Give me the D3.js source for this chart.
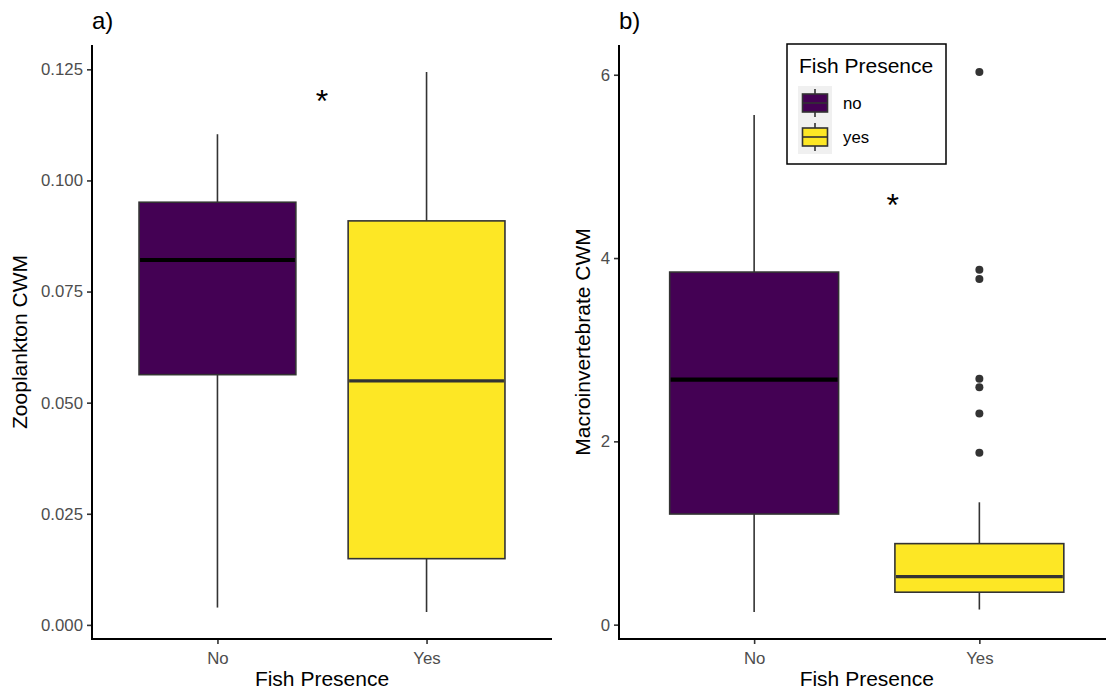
<!DOCTYPE html>
<html>
<head>
<meta charset="utf-8">
<script src="https://cdn.jsdelivr.net/npm/d3@7"></script>
<style>
  html, body { margin: 0; padding: 0; background: #fff; }
  svg { display: block; font-family: "Liberation Sans", Arial, Helvetica, sans-serif; }
</style>
</head>
<body>
<svg id="chart" width="1106" height="694"></svg>
<script>
// Categories on the x axis and the legend
const categories = ["No", "Yes"];
const legendLabels = ["no", "yes"];
const fillColors = ["#440154", "#FDE725"];

// Zooplankton CWM box statistics: [whiskerLow, q1, median, q3, whiskerHigh]
const zooStats = [
  [0.0039, 0.0563, 0.0821, 0.0951, 0.1104],
  [0.0029, 0.0149, 0.0549, 0.0909, 0.1244]
];
const zooOutliers = [[], []];
const zooTicks = [0, 0.025, 0.05, 0.075, 0.1, 0.125];

// Macroinvertebrate CWM box statistics
const macroStats = [
  [0.138, 1.207, 2.673, 3.847, 5.56],
  [0.165, 0.354, 0.524, 0.884, 1.335]
];
const macroOutliers = [[], [6.03, 3.873, 3.771, 2.684, 2.589, 2.305, 1.876]];
const macroTicks = [0, 2, 4, 6];

// Significance markers: [x position (category index, 1-based), y value]
const zooStar = [1.5, 0.1179];
const macroStar = [1.615, 4.58];

const svg = d3.select("#chart");

function expandDomain(values) {
  const lo = d3.min(values), hi = d3.max(values);
  const pad = (hi - lo) * 0.05;
  return [lo - pad, hi + pad];
}

function drawPanel(opts) {
  const { left, right, top, bottom, stats, outliers, ticks, tickFmt, yTitle, tag, star, titleX } = opts;
  const g = svg.append("g");

  const allVals = stats.flat().concat(outliers.flat());
  const y = d3.scaleLinear().domain(expandDomain(allVals)).range([bottom, top]);
  const x = d3.scaleLinear().domain([0.4, 2.6]).range([left, right]);
  const unit = x(2) - x(1);
  const boxW = unit * 0.75;

  // boxes
  stats.forEach((s, i) => {
    const cx = x(i + 1);
    const [wl, q1, med, q3, wh] = s;
    const bg = g.append("g");
    bg.append("line").attr("x1", cx).attr("x2", cx).attr("y1", y(q3)).attr("y2", y(wh))
      .attr("stroke", "#333333").attr("stroke-width", 1.6);
    bg.append("line").attr("x1", cx).attr("x2", cx).attr("y1", y(wl)).attr("y2", y(q1))
      .attr("stroke", "#333333").attr("stroke-width", 1.6);
    bg.append("rect").attr("x", cx - boxW / 2).attr("width", boxW)
      .attr("y", y(q3)).attr("height", y(q1) - y(q3))
      .attr("fill", fillColors[i]).attr("stroke", "#333333").attr("stroke-width", 1.6);
    bg.append("line").attr("x1", cx - boxW / 2 + 1).attr("x2", cx + boxW / 2 - 1)
      .attr("y1", y(med)).attr("y2", y(med))
      .attr("stroke", i === 0 ? "#000000" : "#333333")
      .attr("stroke-width", i === 0 ? 4.2 : 3.3);
    g.selectAll(null).data(outliers[i]).enter().append("circle")
      .attr("cx", cx).attr("cy", d => y(d)).attr("r", 4).attr("fill", "#333333");
  });

  // axes
  const yAxis = d3.axisLeft(y).tickValues(ticks).tickFormat(tickFmt).tickSize(5).tickPadding(4);
  const ya = g.append("g").attr("transform", `translate(${left},0)`).call(yAxis);
  const xAxis = d3.axisBottom(x).tickValues([1, 2]).tickFormat(d => categories[d - 1]).tickSize(5).tickPadding(4);
  const xa = g.append("g").attr("transform", `translate(0,${bottom})`).call(xAxis);
  [ya, xa].forEach(a => {
    a.select(".domain").remove();
    a.selectAll(".tick line").attr("stroke", "#333333").attr("stroke-width", 1.6);
    a.selectAll(".tick text").attr("fill", "#4d4d4d").attr("font-size", 16.8)
      .attr("font-family", "Liberation Sans, Arial, sans-serif");
  });
  xa.selectAll(".tick text").attr("dy", "0.95em");
  g.append("path").attr("d", `M${left},${top}V${bottom}H${right}`)
    .attr("fill", "none").attr("stroke", "#000").attr("stroke-width", 2);

  // titles
  g.append("text").attr("x", (left + right) / 2).attr("y", 686).attr("text-anchor", "middle")
    .attr("font-size", 21).attr("fill", "#000").text("Fish Presence");
  g.append("text").attr("transform", `translate(${titleX},${(top + bottom) / 2}) rotate(-90)`)
    .attr("text-anchor", "middle").attr("font-size", 21).attr("fill", "#000").text(yTitle);
  g.append("text").attr("x", left).attr("y", 29).attr("font-size", 24).attr("fill", "#000").text(tag);

  // significance marker
  g.append("text").attr("x", x(star[0])).attr("y", y(star[1])).attr("text-anchor", "middle")
    .attr("dominant-baseline", "central").attr("font-size", 32).attr("fill", "#000").text("*");

  return { x, y };
}

drawPanel({
  left: 92, right: 552, top: 45, bottom: 639,
  stats: zooStats, outliers: zooOutliers, ticks: zooTicks,
  tickFmt: d3.format(".3f"), yTitle: "Zooplankton CWM", tag: "a)", star: zooStar, titleX: 27
});
drawPanel({
  left: 619, right: 1114.5, top: 45, bottom: 639,
  stats: macroStats, outliers: macroOutliers, ticks: macroTicks,
  tickFmt: d3.format("d"), yTitle: "Macroinvertebrate CWM", tag: "b)", star: macroStar, titleX: 590
});

// legend
const lg = svg.append("g").attr("transform", "translate(787,44)");
lg.append("rect").attr("x", 0).attr("y", 0).attr("width", 159).attr("height", 120)
  .attr("fill", "#fff").attr("stroke", "#000").attr("stroke-width", 1.5);
lg.append("text").attr("x", 12).attr("y", 29).attr("font-size", 21).attr("fill", "#000").text("Fish Presence");
const keyY = d3.scaleBand().domain(legendLabels).range([42, 110]);
legendLabels.forEach((lab, i) => {
  const ky = keyY(lab), kh = keyY.bandwidth();
  const kg = lg.append("g").attr("transform", `translate(11,${ky})`);
  kg.append("rect").attr("width", 34).attr("height", kh).attr("fill", "#f0f0f0");
  kg.append("line").attr("x1", 17).attr("x2", 17).attr("y1", 3).attr("y2", kh - 3)
    .attr("stroke", "#333333").attr("stroke-width", 1.6);
  kg.append("rect").attr("x", 4.5).attr("y", 8).attr("width", 25).attr("height", kh - 16)
    .attr("fill", fillColors[i]).attr("stroke", "#333333").attr("stroke-width", 1.6);
  kg.append("line").attr("x1", 4.5).attr("x2", 29.5).attr("y1", kh / 2).attr("y2", kh / 2)
    .attr("stroke", "#333333").attr("stroke-width", 1.6);
  lg.append("text").attr("x", 56).attr("y", ky + kh / 2 + 6).attr("font-size", 16.8)
    .attr("fill", "#000").text(lab);
});
</script>
</body>
</html>
